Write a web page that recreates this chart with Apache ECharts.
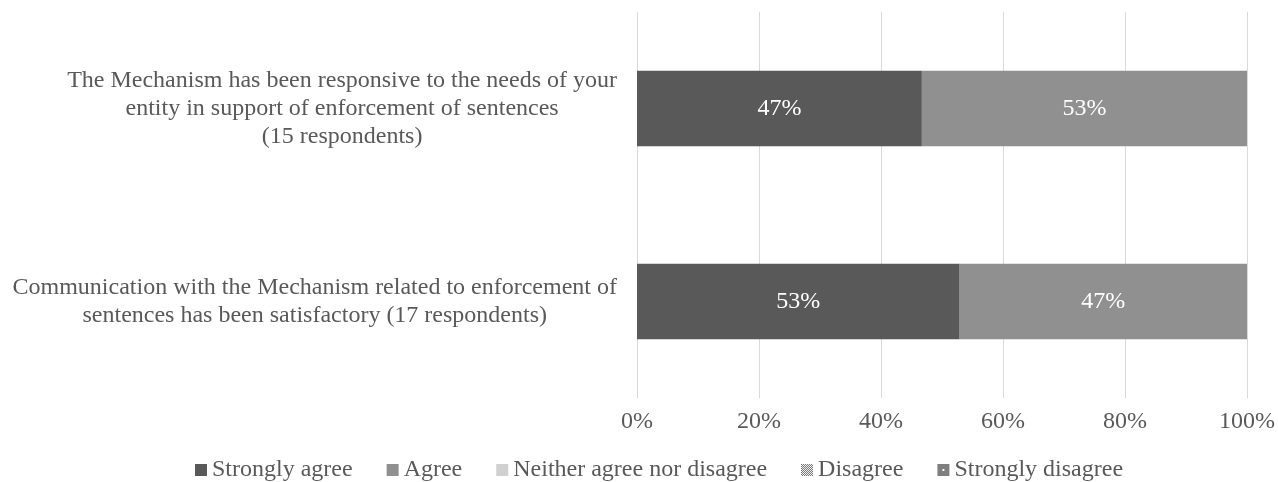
<!DOCTYPE html>
<html>
<head>
<meta charset="utf-8">
<script src="https://cdn.jsdelivr.net/npm/echarts@6/dist/echarts.min.js"></script>
<style>
  html, body { margin: 0; padding: 0; background: #fff; }
  #container { width: 1278px; height: 482px; }
</style>
</head>
<body>
<div id="container"></div>
<script>
var dom = document.getElementById('container');
var myChart = echarts.init(dom);

// data
var categories = [
    'The Mechanism has been responsive to the needs of your\nentity in support of enforcement of sentences\n(15 respondents)',
    'Communication with the Mechanism related to enforcement of\nsentences has been satisfactory (17 respondents)'
];
var seriesNames = ['Strongly agree', 'Agree', 'Neither agree nor disagree', 'Disagree', 'Strongly disagree'];
var stronglyAgree = [46.7, 52.9];
var agree = [53.3, 47.1];
var neither = [0, 0];
var disagree = [0, 0];
var stronglyDisagree = [0, 0];
var tickValues = [0, 20, 40, 60, 80, 100];

var font = '"Liberation Serif", "Times New Roman", serif';
var textGray = '#595959';
var colors = ['#595959', '#909090', '#d0d0d0', '#7f7f7f', '#7f7f7f'];

// little checkered icon for "Disagree"
function checkerIcon() {
    var c = document.createElement('canvas');
    c.width = 12; c.height = 12;
    var ctx = c.getContext('2d');
    ctx.fillStyle = '#ffffff';
    ctx.fillRect(0, 0, 12, 12);
    ctx.fillStyle = '#6a6a6a';
    for (var y = 0; y < 12; y++) {
        for (var x = 0; x < 12; x++) {
            if ((x + y) % 2 === 0) ctx.fillRect(x, y, 1, 1);
        }
    }
    return 'image://' + c.toDataURL();
}

var icons = [
    'rect',
    'rect',
    'rect',
    checkerIcon(),
    'path://M0,0H12V12H0Z M5,5V7H7V5Z'
];

var allData = [stronglyAgree, agree, neither, disagree, stronglyDisagree];

var series = [];
for (var i = 0; i < seriesNames.length; i++) {
    series.push({
        name: seriesNames[i],
        type: 'bar',
        stack: 'total',
        barCategoryGap: '61%',
        data: allData[i],
        itemStyle: { color: colors[i] },
        label: {
            show: true,
            color: '#ffffff',
            fontFamily: font,
            fontSize: 24,
            formatter: function (p) {
                return p.value > 0 ? Math.round(p.value) + '%' : '';
            }
        }
    });
}

var option = {
    animation: false,
    grid: {
        left: 637,
        right: 29,
        top: 12,
        bottom: 84
    },
    legend: {
        top: 453,
        left: 190,
        itemWidth: 12,
        itemHeight: 12,
        itemGap: 34,
        textStyle: { color: textGray, fontFamily: font, fontSize: 24 },
        data: seriesNames.map(function (n, i) {
            return { name: n, icon: icons[i] };
        })
    },
    xAxis: {
        type: 'value',
        min: tickValues[0],
        max: tickValues[tickValues.length - 1],
        interval: 20,
        axisLine: { show: false },
        axisTick: { show: false },
        splitLine: { lineStyle: { color: '#d9d9d9', width: 1 } },
        axisLabel: {
            color: textGray,
            fontFamily: font,
            fontSize: 24,
            margin: 12,
            formatter: '{value}%'
        }
    },
    yAxis: {
        type: 'category',
        inverse: true,
        data: categories,
        axisLine: { show: false },
        axisTick: { show: false },
        axisLabel: {
            margin: 20,
            align: 'right',
            formatter: function (v) {
                return v.split('\n').map(function (s) { return '{c|' + s + '}'; }).join('\n');
            },
            rich: {
                c: {
                    align: 'center',
                    color: textGray,
                    fontFamily: font,
                    fontSize: 24,
                    lineHeight: 28
                }
            }
        }
    },
    series: series
};

if (option && typeof option === 'object') {
    myChart.setOption(option);
}
</script>
</body>
</html>
